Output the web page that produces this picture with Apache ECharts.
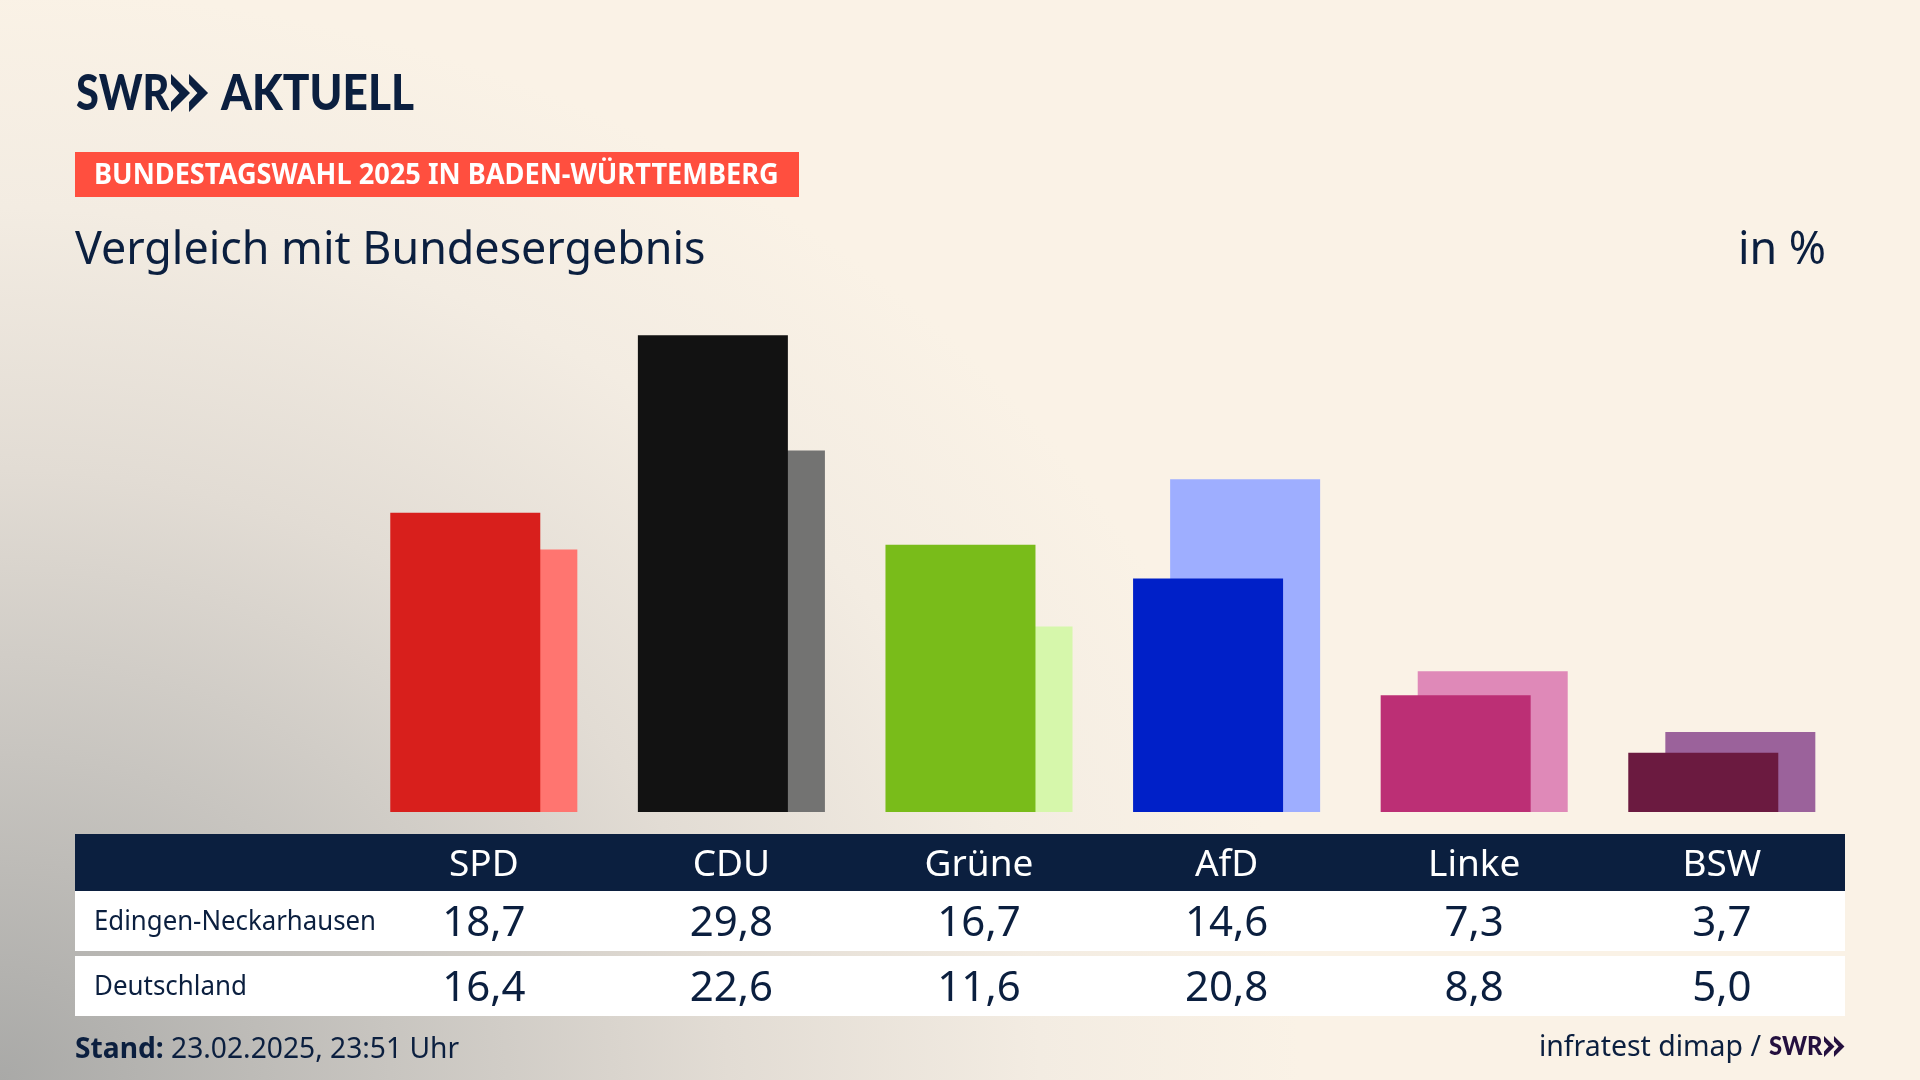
<!DOCTYPE html>
<html lang="de">
<head>
    <meta charset="UTF-8">
    <title>Vergleich mit Bundesergebnis</title>
    <style>
        *{
            margin: 0;
            padding: 0;
        }
        html,body{
            width: 1920px;
            height: 1080px;
            overflow: hidden;
            background: #faf2e6;
        }
        .main{
            width: 1920px;
            height: 1080px;
            background: radial-gradient(ellipse 1300px 1090px at 0 100%, #a9a9a7 0%, #c8c5c0 30%, #e2dcd4 56%, #f3ece2 80%, #faf2e6 100%);
        }
    </style>
    <script src="https://cdn.jsdelivr.net/npm/echarts@6/dist/echarts.min.js"></script>
</head>
<body>
<div class="main"></div>
<script>
    const parties = ['SPD', 'CDU', 'Grüne', 'AfD', 'Linke', 'BSW'];
    const edingen = [18.7, 29.8, 16.7, 14.6, 7.3, 3.7];
    const deutschland = [16.4, 22.6, 11.6, 20.8, 8.8, 5.0];
    const frontColors = ['#d81f1c', '#121212', '#79bc1a', '#0020c8', '#bc2f75', '#6b1a40'];
    const backColors = ['#ff7570', '#737372', '#d6f7ab', '#9eaeff', '#df89b8', '#9b629b'];

    const navy = '#0b1f3f';
    const font = 'Noto Sans';
    const fmt = v => v.toFixed(1).replace('.', ',');

    function rect(x, y, width, height, fill) {
        return {type: 'rect', z: -1, shape: {x, y, width, height}, style: {fill}};
    }
    // sx squeezes the text sideways, the original typeface is narrower
    function text(x, y, str, size, opts, sx) {
        return {
            type: 'text', z: 5, x, y, scaleX: sx || 1,
            style: Object.assign({
                text: str, fill: navy, fontFamily: font, fontSize: size,
                verticalAlign: 'middle', align: 'left'
            }, opts || {})
        };
    }
    // the two arrows of the SWR logo
    function chevrons(x, y, w, h, fill) {
        let one = x0 => ({
            type: 'polygon', z: 5,
            shape: {points: [
                [x0, y], [x0 + w, y + h / 2], [x0, y + h],
                [x0, y + h * 0.74], [x0 + w * 0.44, y + h / 2], [x0, y + h * 0.26]
            ]},
            style: {fill}
        });
        return [one(x), one(x + w * 0.95)];
    }

    let char = echarts.init(document.querySelector('.main'));
    char.setOption({
        animation: false,
        grid: {left: 360, right: 74.4, top: 332, bottom: 268},
        xAxis: {
            type: 'category',
            data: parties,
            z: 10,
            axisLine: {show: false},
            axisTick: {show: false},
            axisLabel: {
                interval: 0,
                margin: 25.5,
                formatter: (name, i) => `{h|${name}}\n{a|${fmt(edingen[i])}}\n{b|${fmt(deutschland[i])}}`,
                rich: {
                    h: {fontFamily: font, fontSize: 37, color: '#fff', lineHeight: 56, height: 56},
                    a: {fontFamily: font, fontSize: 42, color: navy, lineHeight: 62, height: 62},
                    b: {fontFamily: font, fontSize: 42, color: navy, lineHeight: 68, height: 68}
                }
            }
        },
        yAxis: {type: 'value', min: 0, max: 30, show: false},
        series: [
            {
                name: 'Edingen-Neckarhausen',
                type: 'bar',
                z: 3,
                barWidth: 150,
                barGap: '-75.3%',
                data: edingen.map((v, i) => ({value: v, itemStyle: {color: frontColors[i]}}))
            },
            {
                name: 'Deutschland',
                type: 'bar',
                z: 2,
                barWidth: 150,
                barGap: '-75.3%',
                data: deutschland.map((v, i) => ({value: v, itemStyle: {color: backColors[i]}}))
            }
        ],
        graphic: {
            elements: [
                rect(75, 152, 724, 45, '#ff4f3f'),
                rect(75, 834, 1770, 57, '#0b1f3f'),
                rect(75, 891, 1770, 60, '#fff'),
                rect(75, 956, 1770, 60, '#fff'),
                text(76, 94, 'SWR', 50, {fontFamily: 'Lato', fontWeight: 900}, 0.83),
                ...chevrons(171, 74, 19, 38, navy),
                text(221, 94, 'AKTUELL', 50, {fontFamily: 'Lato', fontWeight: 900}, 0.885),
                text(94, 176, 'BUNDESTAGSWAHL 2025 IN BADEN-WÜRTTEMBERG', 28, {fill: '#fff', fontWeight: 700}, 0.971),
                text(75, 251, 'Vergleich mit Bundesergebnis', 44.8),
                text(1826, 251, 'in %', 44.8, {align: 'right'}),
                text(94, 922, 'Edingen-Neckarhausen', 27, null, 0.955),
                text(94, 987, 'Deutschland', 27, null, 0.96),
                text(75, 1050, '{b|Stand:} 23.02.2025, 23:51 Uhr', 29, {
                    rich: {b: {fontFamily: font, fontSize: 29, fontWeight: 700, fill: navy}}
                }, 0.972),
                text(1761, 1048, 'infratest dimap /', 29, {align: 'right'}, 0.98),
                text(1769, 1046, 'SWR', 27, {fontFamily: 'Lato', fill: '#24103f', fontWeight: 900}, 0.88),
                ...chevrons(1824, 1036, 10.5, 21, '#24103f')
            ]
        }
    });
</script>
</body>
</html>
